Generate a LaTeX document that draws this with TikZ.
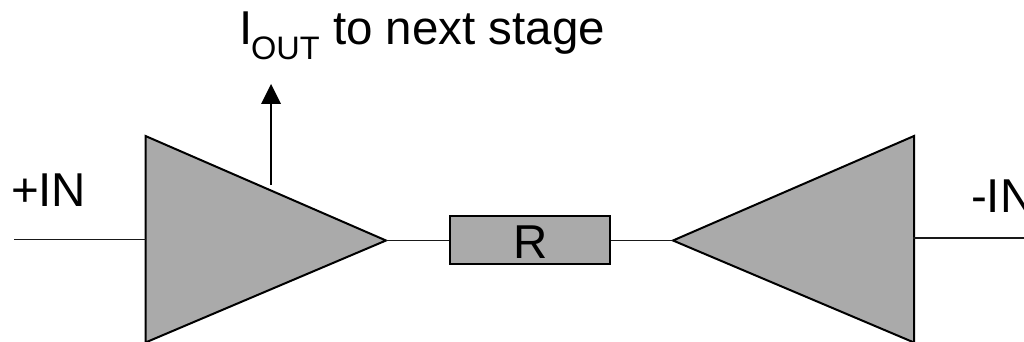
\documentclass[tikz,border=0pt]{standalone}
\usepackage{fontspec}
\setmainfont{Liberation Sans}
\definecolor{ampgray}{RGB}{170,170,170}
\tikzset{
  wire/.style={line width=1.8pt,black!90},
  amp/.style={draw=black,fill=ampgray,line width=2pt,line join=miter},
  lbl/.style={anchor=base west,inner sep=0pt,outer sep=0pt,font=\fontsize{47.5}{47.5}\selectfont},
  sublbl/.style={anchor=base west,inner sep=0pt,outer sep=0pt,font=\fontsize{32.5}{32.5}\selectfont},
}
\begin{document}
\begin{tikzpicture}[x=1pt,y=-1pt]
\useasboundingbox (0,0) rectangle (1024,342);
\clip (0,0) rectangle (1024,342);
\coordinate (inL) at (14,239.5);
\coordinate (ampLin) at (145.5,239.5);
\coordinate (ampLtip) at (386,240.5);
\coordinate (inR) at (1024,238);
\coordinate (ampRin) at (913,238);
\coordinate (ampRtip) at (673,240.5);
\coordinate (ioutS) at (271,185);
\coordinate (ioutE) at (271,84);
\draw[amp] (145.5,136) -- (ampLtip) -- (145.5,342.5) -- cycle;
\draw[amp] (914,136) -- (ampRtip) -- (914,342.5) -- cycle;
\node[draw=black,fill=ampgray,line width=2pt,minimum width=160pt,minimum height=48pt,inner sep=0pt] (R) at (529.8,240.3) {};
\node[lbl] (Rtxt) at (513,258) {R};
\draw[wire] (inL) -- (ampLin);
\draw[wire] (ampLtip) -- (ampLtip -| R.west);
\draw[wire] (ampRtip -| R.east) -- (ampRtip);
\draw[wire] (ampRin) -- (inR);
\draw[line width=2pt] (ioutS) -- (271,104);
\fill[black] (ioutE) -- (281,104) -- (261,104) -- cycle;
\node[lbl] (plus) at (11,206) {+IN};
\node[lbl] (minus) at (971,212) {-IN};
\node[lbl] (I) at (239,45) {I};
\node[sublbl] (O) at (251,60) {OUT};
\node[lbl] (T) at (333,45) {to next stage};
\end{tikzpicture}
\end{document}
